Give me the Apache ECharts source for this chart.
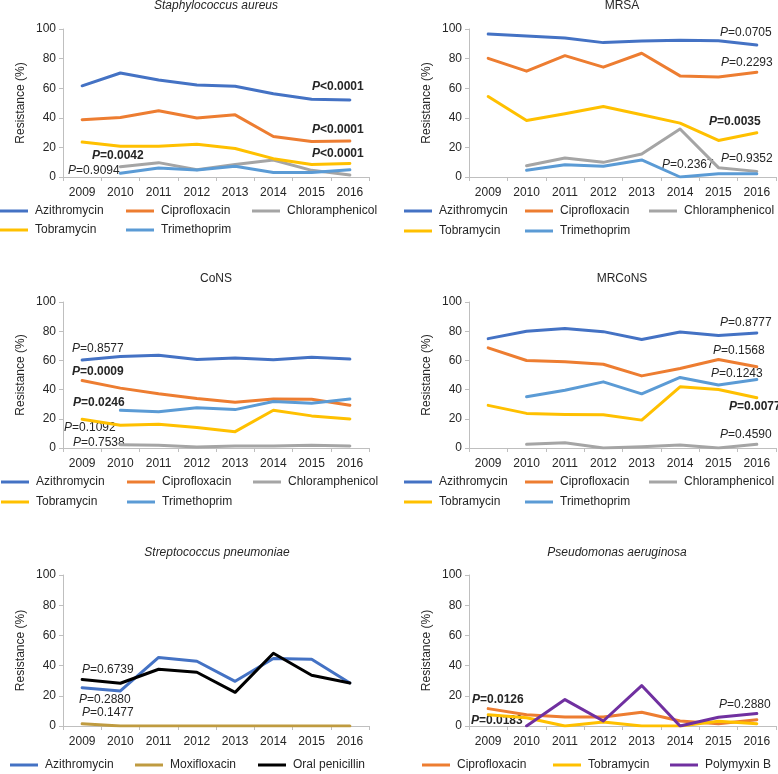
<!DOCTYPE html>
<html>
<head>
<meta charset="utf-8">
<script src="https://cdn.jsdelivr.net/npm/echarts@6/dist/echarts.min.js"></script>
<style>html,body{margin:0;padding:0;background:#fff}#c{width:778px;height:774px}</style>
</head>
<body>
<div id="c"></div>
<script>
// ---------- DATA ----------
const years = ['2009','2010','2011','2012','2013','2014','2015','2016'];

// Staphylococcus aureus
const saAzithromycin    = [61.6, 70.3, 65.6, 62.2, 61.3, 56.2, 52.6, 52.1];
const saCiprofloxacin   = [38.7, 40.2, 44.7, 39.8, 42.0, 27.4, 24.0, 24.3];
const saChloramphenicol = [null, 7.0, 9.7, 4.9, 8.5, 11.5, 4.5, 1.3];
const saTobramycin      = [23.6, 20.7, 20.7, 22.2, 19.3, 12.4, 8.5, 9.2];
const saTrimethoprim    = [null, 2.5, 6.1, 4.7, 7.2, 3.1, 3.1, 4.9];

// MRSA
const mrsaAzithromycin    = [96.6, 95.3, 93.9, 90.8, 91.9, 92.4, 92.1, 89.2];
const mrsaCiprofloxacin   = [80.2, 71.5, 82.0, 74.2, 83.6, 68.3, 67.6, 70.8];
const mrsaChloramphenicol = [null, 7.6, 12.8, 9.9, 15.5, 32.4, 6.3, 3.8];
const mrsaTobramycin      = [54.4, 38.2, 42.7, 47.6, 42.0, 36.4, 24.7, 29.9];
const mrsaTrimethoprim    = [null, 4.5, 8.3, 7.2, 11.5, 0.0, 2.2, 2.2];

// CoNS
const consAzithromycin    = [60.2, 62.7, 63.6, 60.6, 61.6, 60.4, 62.2, 60.9];
const consCiprofloxacin   = [46.2, 41.0, 37.1, 33.9, 31.4, 33.6, 33.4, 29.3];
const consChloramphenicol = [null, 2.3, 1.8, 0.7, 1.4, 1.4, 1.8, 1.4];
const consTobramycin      = [19.7, 15.6, 16.2, 14.0, 11.2, 25.9, 22.0, 19.9];
const consTrimethoprim    = [null, 25.9, 24.9, 27.5, 26.3, 31.8, 30.7, 33.6];

// MRCoNS
const mrconsAzithromycin    = [74.9, 80.0, 81.8, 79.7, 74.3, 79.5, 77.0, 78.8];
const mrconsCiprofloxacin   = [68.6, 59.9, 59.0, 57.4, 49.4, 54.4, 60.6, 55.6];
const mrconsChloramphenicol = [null, 2.5, 3.6, 0.0, 0.9, 2.1, 0.0, 2.5];
const mrconsTobramycin      = [29.2, 23.7, 23.0, 22.8, 19.1, 41.9, 40.1, 34.4];
const mrconsTrimethoprim    = [null, 35.1, 39.6, 45.3, 37.1, 48.3, 43.1, 46.9];

// Streptococcus pneumoniae
const spAzithromycin   = [25.4, 23.2, 45.4, 42.9, 29.6, 44.7, 44.2, 28.5];
const spMoxifloxacin   = [1.5, 0, 0, 0, 0, 0, 0, 0];
const spOralPenicillin = [30.8, 28.3, 37.6, 35.6, 22.3, 48.2, 33.6, 28.5];

// Pseudomonas aeruginosa
const paCiprofloxacin = [11.5, 7.5, 6.0, 6.0, 9.1, 3.3, 1.5, 4.2];
const paTobramycin    = [7.5, 5.5, 0.0, 2.7, 0.0, 0.0, 3.1, 1.5];
const paPolymyxinB    = [null, 0.0, 17.5, 3.3, 26.8, 0.0, 5.8, 8.2];

const panelTitles = ['Staphylococcus aureus', 'MRSA', 'CoNS', 'MRCoNS', 'Streptococcus pneumoniae', 'Pseudomonas aeruginosa'];
const yTicks = [0, 20, 40, 60, 80, 100];
const yName = 'Resistance (%)';

// P-value annotation texts per panel [text, bold]
const pTexts = [
  [['<0.0001', true], ['<0.0001', true], ['<0.0001', true], ['=0.0042', true], ['=0.9094', false]],
  [['=0.0705', false], ['=0.2293', false], ['=0.0035', true], ['=0.2367', false], ['=0.9352', false]],
  [['=0.8577', false], ['=0.0009', true], ['=0.0246', true], ['=0.1092', false], ['=0.7538', false]],
  [['=0.8777', false], ['=0.1568', false], ['=0.1243', false], ['=0.0077', true], ['=0.4590', false]],
  [['=0.6739', false], ['=0.2880', false], ['=0.1477', false]],
  [['=0.0126', true], ['=0.0183', true], ['=0.2880', false]]
];

// ---------- LAYOUT / STYLE ----------
const FONT = '"Liberation Sans", Arial, Helvetica, sans-serif';
const TXT = '#262626';
const AX = '#BFBFBF';
const COLORS = {
  'Azithromycin': '#4472C4', 'Ciprofloxacin': '#ED7D31', 'Chloramphenicol': '#A5A5A5',
  'Tobramycin': '#FFC000', 'Trimethoprim': '#5B9BD5', 'Moxifloxacin': '#BF9B40',
  'Oral penicillin': '#000000', 'Polymyxin B': '#7030A0'
};
const grids = [
  {left: 63, top: 29, width: 306, height: 148},
  {left: 469, top: 29, width: 307, height: 148},
  {left: 63, top: 302, width: 306, height: 146},
  {left: 469, top: 302, width: 307, height: 146},
  {left: 63, top: 575, width: 306, height: 151},
  {left: 469, top: 575, width: 307, height: 151}
];
const titlePos = [[216, 6, true], [622, 6, false], [216, 279, false], [622, 279, false], [217, 553, true], [617, 553, true]];
const pPos = [
  [[312, 87], [312, 130], [312, 154], [92, 156], [68, 171]],
  [[720, 33], [721, 63], [709, 122], [662, 165], [721, 159]],
  [[72, 349], [72, 372], [73, 403], [64, 428], [73, 443]],
  [[720, 323], [713, 351], [711, 374], [729, 407], [720, 435]],
  [[82, 670], [79, 700], [82, 713]],
  [[472, 700], [471, 721], [719, 705]]
];

const panelSeries = [
  [['Azithromycin', saAzithromycin], ['Ciprofloxacin', saCiprofloxacin], ['Chloramphenicol', saChloramphenicol], ['Tobramycin', saTobramycin], ['Trimethoprim', saTrimethoprim]],
  [['Azithromycin', mrsaAzithromycin], ['Ciprofloxacin', mrsaCiprofloxacin], ['Chloramphenicol', mrsaChloramphenicol], ['Tobramycin', mrsaTobramycin], ['Trimethoprim', mrsaTrimethoprim]],
  [['Azithromycin', consAzithromycin], ['Ciprofloxacin', consCiprofloxacin], ['Chloramphenicol', consChloramphenicol], ['Tobramycin', consTobramycin], ['Trimethoprim', consTrimethoprim]],
  [['Azithromycin', mrconsAzithromycin], ['Ciprofloxacin', mrconsCiprofloxacin], ['Chloramphenicol', mrconsChloramphenicol], ['Tobramycin', mrconsTobramycin], ['Trimethoprim', mrconsTrimethoprim]],
  [['Azithromycin', spAzithromycin], ['Moxifloxacin', spMoxifloxacin], ['Oral penicillin', spOralPenicillin]],
  [['Ciprofloxacin', paCiprofloxacin], ['Tobramycin', paTobramycin], ['Polymyxin B', paPolymyxinB]]
];

// legend item positions per panel: [x, yCenter] in series order
const legendPos = [
  [[0, 212], [126, 212], [252, 212], [0, 231], [126, 231]],
  [[404, 212], [525, 212], [649, 212], [404, 232], [525, 232]],
  [[1, 483], [127, 483], [253, 483], [1, 503], [127, 503]],
  [[404, 483], [525, 483], [649, 483], [404, 503], [525, 503]],
  [[10, 766], [135, 766], [258, 766]],
  [[422, 766], [553, 766], [670, 766]]
];

// ---------- BUILD ----------
const option = {
  animation: false,
  backgroundColor: '#fff',
  grid: grids.map(g => Object.assign({containLabel: false}, g)),
  xAxis: grids.map((g, i) => ({
    gridIndex: i, type: 'category', data: years, boundaryGap: true,
    axisLine: {show: true, lineStyle: {color: AX, width: 1}},
    axisTick: {show: true, length: 4, alignWithLabel: false, interval: 0, lineStyle: {color: AX}},
    axisLabel: {interval: 0, fontSize: 12, color: TXT, margin: 10, fontFamily: FONT},
    splitLine: {show: false}
  })),
  yAxis: grids.map((g, i) => ({
    gridIndex: i, type: 'value', min: yTicks[0], max: yTicks[yTicks.length - 1], interval: yTicks[1] - yTicks[0],
    name: yName, nameLocation: 'middle', nameGap: 36,
    nameTextStyle: {fontSize: 12, color: TXT, fontFamily: FONT},
    axisLine: {show: true, lineStyle: {color: AX, width: 1}},
    axisTick: {show: true, length: 4, lineStyle: {color: AX}},
    axisLabel: {fontSize: 12, color: TXT, margin: 7, fontFamily: FONT},
    splitLine: {show: false}
  })),
  series: [],
  legend: [],
  graphic: []
};

panelSeries.forEach((list, i) => {
  list.forEach(([name, data], k) => {
    const c = COLORS[name];
    option.series.push({
      type: 'line', name: name, data: data, xAxisIndex: i, yAxisIndex: i,
      symbol: 'none', showSymbol: false, connectNulls: false, silent: true,
      lineStyle: {width: 3, color: c, join: 'round', cap: 'round'}, itemStyle: {color: c}
    });
    const [lx, ly] = legendPos[i][k];
    option.legend.push({
      left: lx, top: ly - 7, padding: 0, icon: 'rect', itemWidth: 28, itemHeight: 3,
      selectedMode: false, data: [{name: name, itemStyle: {color: c}}],
      textStyle: {fontSize: 12, color: TXT, fontFamily: FONT, padding: [0, 0, 0, 2]}
    });
  });
});

titlePos.forEach(([x, y, ital], i) => {
  option.graphic.push({
    type: 'text', x: x, y: y, silent: true,
    style: {text: panelTitles[i], fill: TXT, fontSize: 12, fontFamily: FONT, fontStyle: ital ? 'italic' : 'normal',
      align: 'center', verticalAlign: 'middle', textAlign: 'center', textVerticalAlign: 'middle'}
  });
});

pTexts.forEach((list, i) => {
  list.forEach(([t, bold], k) => {
    const [x, y] = pPos[i][k];
    const w = bold ? 'bold' : 'normal';
    option.graphic.push({
      type: 'text', x: x, y: y, silent: true,
      style: {
        text: '{p|P}{v|' + t + '}', fill: TXT, fontSize: 12, fontFamily: FONT,
        align: 'left', verticalAlign: 'middle', textAlign: 'left', textVerticalAlign: 'middle',
        rich: {
          p: {fontStyle: 'italic', fontWeight: w, fontSize: 12, fontFamily: FONT, fill: TXT, color: TXT},
          v: {fontStyle: 'normal', fontWeight: w, fontSize: 12, fontFamily: FONT, fill: TXT, color: TXT}
        }
      }
    });
  });
});

const chart = echarts.init(document.getElementById('c'), null, {renderer: 'canvas'});
chart.setOption(option);
</script>
</body>
</html>
